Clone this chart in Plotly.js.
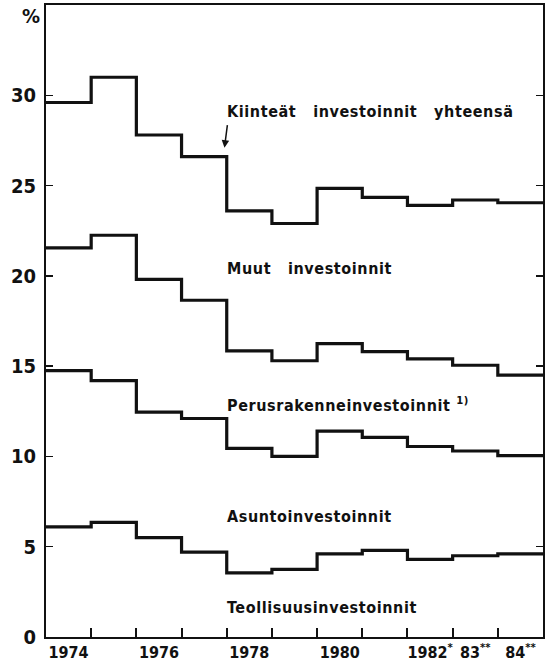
<!DOCTYPE html>
<html>
<head>
<meta charset="utf-8">
<script src="https://cdn.plot.ly/plotly-3.0.1.min.js"></script>
<style>
  html, body { margin: 0; padding: 0; background: #fff; }
  #chart { width: 548px; height: 663px; }
  .annotation-text { letter-spacing: 0.6px; }
</style>
</head>
<body>
<div id="chart"></div>
<script>
// Years (one step per year)
const years = [1974, 1975, 1976, 1977, 1978, 1979, 1980, 1981, 1982, 1983, 1984];

// Cumulative levels (% of GDP) as drawn, top to bottom
const kiinteatYhteensa = [29.6, 31.0, 27.8, 26.6, 23.6, 22.9, 24.85, 24.35, 23.9, 24.2, 24.05];
const muutInvestoinnit = [21.55, 22.25, 19.8, 18.65, 15.85, 15.3, 16.25, 15.8, 15.4, 15.05, 14.5];
const perusrakenne    = [14.75, 14.2, 12.45, 12.1, 10.45, 10.0, 11.4, 11.05, 10.55, 10.3, 10.05];
const asunto          = [6.1, 6.35, 5.5, 4.7, 3.55, 3.75, 4.6, 4.8, 4.3, 4.5, 4.6];

// Tick labels
const labelYears = [1974, 1976, 1978, 1980, 1982, 1983, 1984];
const labelText  = ['1974', '1976', '1978', '1980', '1982<sup>*</sup>', '83<sup>**</sup>', '84<sup>**</sup>'];
const yTicks = [0, 5, 10, 15, 20, 25, 30];

// Series labels
const seriesLabels = {
  total: 'Kiinteät\u00a0\u00a0\u00a0investoinnit\u00a0\u00a0\u00a0yhteensä',
  muut: 'Muut\u00a0\u00a0\u00a0investoinnit',
  perus: 'Perusrakenneinvestoinnit <sup>1)</sup>',
  asunto: 'Asuntoinvestoinnit',
  teoll: 'Teollisuusinvestoinnit'
};

const edges = years.map(y => y - 0.5).concat([years[years.length - 1] + 0.5]);
function stepTrace(vals) {
  return {
    x: edges,
    y: vals.concat([vals[vals.length - 1]]),
    type: 'scatter', mode: 'lines',
    line: { shape: 'hv', color: '#111', width: 3.2 },
    hoverinfo: 'skip', showlegend: false
  };
}

const data = [stepTrace(kiinteatYhteensa), stepTrace(muutInvestoinnit), stepTrace(perusrakenne), stepTrace(asunto)];

const FONT = 'Liberation Sans Narrow, Arial Narrow, DejaVu Sans Condensed, sans-serif';
const labelFont = { family: FONT, size: 16, color: '#111', weight: 'bold' };

function lab(text, x, y) {
  return { text: text, x: x, y: y, xref: 'x', yref: 'y', xanchor: 'left', yanchor: 'middle',
           showarrow: false, font: labelFont };
}

const layout = {
  width: 548, height: 663,
  margin: { l: 46, r: 5, t: 5, b: 26 },
  paper_bgcolor: '#fff', plot_bgcolor: '#fff',
  font: { family: FONT, color: '#111', weight: 'bold' },
  showlegend: false,
  xaxis: {
    range: [edges[0], edges[edges.length - 1]],
    tickmode: 'array', tickvals: labelYears, ticktext: labelText,
    ticks: '', showgrid: false, zeroline: false,
    showline: true, linecolor: '#111', linewidth: 2, mirror: true,
    tickfont: { family: FONT, size: 16, color: '#111', weight: 'bold' },
    minor: { tickmode: 'array', tickvals: years.slice(1).map(y => y - 0.5), ticks: 'inside',
             ticklen: 9, tickwidth: 2, tickcolor: '#111', showgrid: false }
  },
  yaxis: {
    range: [0, 35],
    tickmode: 'array', tickvals: yTicks,
    ticks: 'inside', ticklen: 7, tickwidth: 1.5, tickcolor: '#111',
    showgrid: false, zeroline: false,
    showline: true, linecolor: '#111', linewidth: 2, mirror: 'ticks',
    tickfont: { family: FONT, size: 20, color: '#111', weight: 'bold' },
    ticklabelstandoff: 4
  },
  annotations: [
    lab(seriesLabels.total, 1977.47, 29.1),
    lab(seriesLabels.muut, 1977.47, 20.4),
    lab(seriesLabels.perus, 1977.47, 12.9),
    lab(seriesLabels.asunto, 1977.47, 6.65),
    lab(seriesLabels.teoll, 1977.47, 1.65),
    { text: ' ', x: 1977.45, y: 27.1, xref: 'x', yref: 'y', ax: 4, ay: -31,
      showarrow: true, arrowhead: 2, arrowsize: 1, arrowwidth: 1.5, arrowcolor: '#111' },
    { text: '%', x: -0.029, y: 0.982, xref: 'paper', yref: 'paper', xanchor: 'center', yanchor: 'middle',
      showarrow: false, font: { family: FONT, size: 20, color: '#111', weight: 'bold' } }
  ]
};

Plotly.newPlot('chart', data, layout, { staticPlot: true, displayModeBar: false });
</script>
</body>
</html>
